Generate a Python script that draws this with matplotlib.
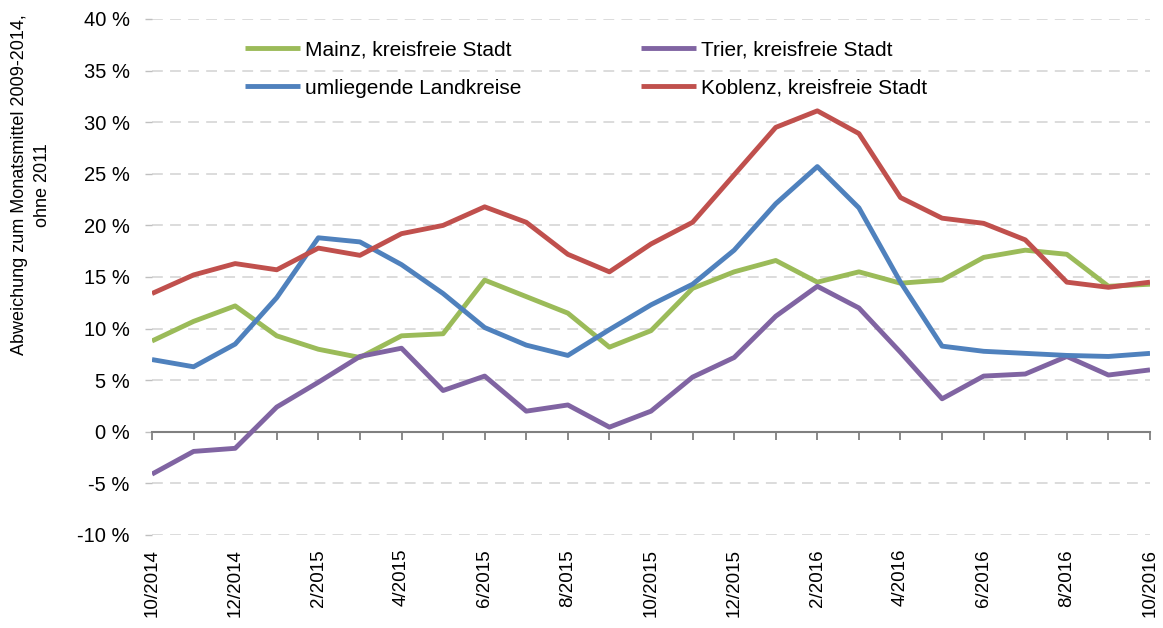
import matplotlib
matplotlib.use("Agg")
import matplotlib.pyplot as plt

months = ["10/2014", "11/2014", "12/2014", "1/2015", "2/2015", "3/2015", "4/2015",
          "5/2015", "6/2015", "7/2015", "8/2015", "9/2015", "10/2015", "11/2015",
          "12/2015", "1/2016", "2/2016", "3/2016", "4/2016", "5/2016", "6/2016",
          "7/2016", "8/2016", "9/2016", "10/2016"]

mainz = [8.8, 10.7, 12.2, 9.3, 8.0, 7.2, 9.3, 9.5, 14.7, 13.1, 11.5, 8.2, 9.8,
         13.9, 15.5, 16.6, 14.5, 15.5, 14.4, 14.7, 16.9, 17.6, 17.2, 14.1, 14.3]
trier = [-4.1, -1.9, -1.6, 2.4, 4.8, 7.3, 8.1, 4.0, 5.4, 2.0, 2.6, 0.45, 2.0,
         5.3, 7.2, 11.2, 14.1, 12.0, 7.7, 3.2, 5.4, 5.6, 7.3, 5.5, 6.0]
umliegende = [7.0, 6.3, 8.5, 13.0, 18.8, 18.4, 16.2, 13.4, 10.1, 8.4, 7.4, 9.9, 12.3,
              14.3, 17.6, 22.1, 25.7, 21.7, 14.5, 8.3, 7.8, 7.6, 7.4, 7.3, 7.6]
koblenz = [13.4, 15.2, 16.3, 15.7, 17.8, 17.1, 19.2, 20.0, 21.8, 20.3, 17.2, 15.5, 18.2,
           20.3, 24.9, 29.5, 31.1, 28.9, 22.7, 20.7, 20.2, 18.6, 14.5, 14.0, 14.5]

series_names = ["Mainz, kreisfreie Stadt", "Trier, kreisfreie Stadt",
                "umliegende Landkreise", "Koblenz, kreisfreie Stadt"]
series_colors = ["#9BBB59", "#8064A2", "#4F81BD", "#C0504D"]

y_ticks = [-10, -5, 0, 5, 10, 15, 20, 25, 30, 35, 40]
y_tick_labels = ["-10 %", "-5 %", "0 %", "5 %", "10 %", "15 %", "20 %",
                 "25 %", "30 %", "35 %", "40 %"]

plt.rcParams['font.family'] = ['Liberation Sans', 'DejaVu Sans']

W, H = 1163, 628
fig = plt.figure(figsize=(W / 100, H / 100), dpi=100)
ax = fig.add_axes([152 / W, 1 - 535 / H, (1150 - 152) / W, (535 - 19) / H])

x = list(range(len(months)))
lines = {}
for name, vals, col in zip(series_names, [mainz, trier, umliegende, koblenz], series_colors):
    ln, = ax.plot(x, vals, color=col, lw=3.5, label=name, solid_joinstyle='round',
                  solid_capstyle='butt', zorder=3)
    lines[name] = ln

ax.set_xlim(0, len(months) - 1)
ax.set_ylim(-10, 40)

# y axis
ax.set_yticks(y_ticks, labels=y_tick_labels)
ax.tick_params(axis='y', length=5, width=1.0, color='#BFBFBF', pad=11,
               labelsize=14.5, labelcolor='black')
ax.grid(axis='y', linestyle=(0, (6, 4)), color='#D9D9D9', lw=1.3)
ax.set_axisbelow(True)
for s in ['left', 'right', 'top']:
    ax.spines[s].set_visible(False)

# x axis line at 0 with monthly ticks
ax.spines['bottom'].set_position(('data', 0))
ax.spines['bottom'].set_color('#808080')
ax.spines['bottom'].set_linewidth(1.5)
ax.spines['bottom'].set_zorder(2)
ax.set_xticks(x)
ax.tick_params(axis='x', length=6, width=1.3, color='#808080', labelbottom=False)

# labels at the bottom of the plot area
sec = ax.secondary_xaxis('bottom')
sec.set_ticks(x[::2], labels=months[::2])
sec.tick_params(length=0, pad=10, labelsize=13.5, labelrotation=90)
sec.spines['bottom'].set_visible(False)

fig.text(31 / W, 1 - 185 / H, "Abweichung zum Monatsmittel 2009-2014,\nohne 2011",
         rotation=90, ha='center', va='center', multialignment='center',
         fontsize=13, linespacing=1.5)

order = ["Mainz, kreisfreie Stadt", "umliegende Landkreise",
         "Trier, kreisfreie Stadt", "Koblenz, kreisfreie Stadt"]
leg = ax.legend([lines[n] for n in order], order, ncol=2, frameon=False,
                loc='upper left', bbox_to_anchor=(239 / W, 1 - 34 / H),
                bbox_transform=fig.transFigure, fontsize=15,
                handlelength=2.64, handletextpad=0.25, columnspacing=5.7,
                labelspacing=0.93, borderpad=0.3, borderaxespad=0)

fig.savefig("out.png", dpi=100)
